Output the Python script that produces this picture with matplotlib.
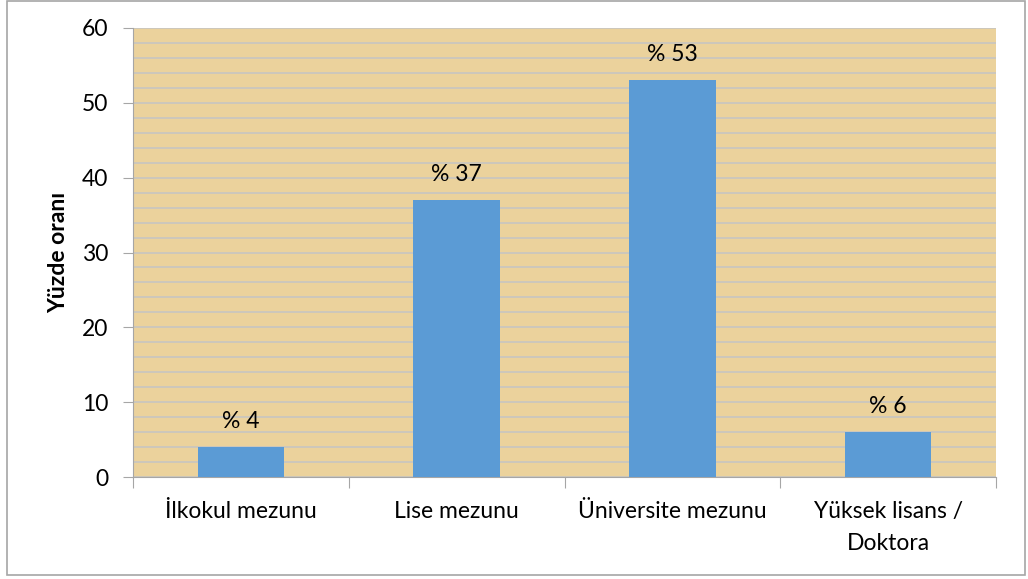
#!/usr/bin/env python3
# -*- coding: utf-8 -*-

import matplotlib
matplotlib.use("Agg")
import matplotlib.pyplot as plt
from matplotlib.patches import Rectangle

# ========================= DATA =========================
categories = ["İlkokul mezunu", "Lise mezunu", "Üniversite mezunu", "Yüksek lisans /\nDoktora"]
values = [4, 37, 53, 6]
value_labels = ["% 4", "% 37", "% 53", "% 6"]
y_label = "Yüzde oranı"

plt.rcParams['font.family'] = ['Lato', 'DejaVu Sans']

fig = plt.figure(figsize=(10.28, 5.79), dpi=100)
ax = fig.add_axes([133 / 1028, 1 - 477 / 579, (996 - 133) / 1028, (477 - 28) / 579])

# outer chart border
fig.patches.append(Rectangle((7 / 1028, 1 - 575 / 579), (1025 - 7) / 1028, 574 / 579,
                             transform=fig.transFigure, fill=False, edgecolor='#A6A6A6', linewidth=1.2))

ax.set_facecolor('#EBD29C')
x = list(range(len(categories)))
bars = ax.bar(x, values, width=0.4, color='#5B9BD5', zorder=3)

for b, lab in zip(bars, value_labels):
    ax.annotate(lab, (b.get_x() + b.get_width() / 2, b.get_height()), xytext=(0, 11),
                textcoords='offset points', ha='center', va='bottom', fontsize=16.5)

ax.set_xlim(-0.5, len(categories) - 0.5)
ax.set_ylim(0, 60)
ax.set_yticks(range(0, 61, 10))
ax.set_yticks(range(0, 61, 2), minor=True)
ax.grid(axis='y', which='both', color='#C4C4C4', linewidth=1.1, zorder=1)
ax.set_axisbelow(True)

ax.set_xticks([i - 0.5 for i in range(len(categories) + 1)])
ax.set_xticklabels([])
ax.set_xticks(x, minor=True)
ax.set_xticklabels(categories, minor=True, fontsize=16.5, linespacing=1.65)
ax.tick_params(axis='x', which='minor', length=0, pad=17.5)
ax.tick_params(axis='x', which='major', length=8, color='#A6A6A6', direction='out')
ax.tick_params(axis='y', which='major', length=7, color='#A6A6A6', labelsize=16.5, pad=11)
ax.tick_params(axis='y', which='minor', length=0)

for side in ['top', 'right']:
    ax.spines[side].set_visible(False)
ax.spines['left'].set_color('#A6A6A6')
ax.spines['bottom'].set_color('#A6A6A6')

ax.set_ylabel(y_label, fontsize=16.5, fontweight='bold', labelpad=9)

plt.savefig("out.png", dpi=100)
plt.close()
